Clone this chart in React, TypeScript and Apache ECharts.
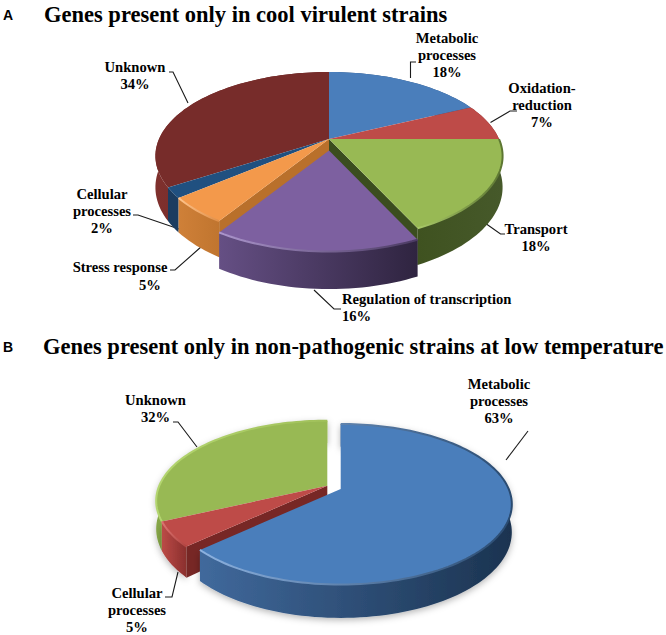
import React, { useEffect, useRef } from "react";
import * as echarts from "echarts";

const titleA = "Genes present only in cool virulent strains";
const titleB = "Genes present only in non-pathogenic strains at low temperature";

const namesA = ["Metabolic\nprocesses", "Oxidation-\nreduction", "Transport", "Regulation of transcription", "Stress response", "Cellular\nprocesses", "Unknown"];
const valuesA = [18, 7, 18, 16, 5, 2, 34];
const namesB = ["Metabolic\nprocesses", "Cellular\nprocesses", "Unknown"];
const valuesB = [63, 5, 32];

type Slice = {
  top: string; wall: [string, string]; rim?: [string, string]; cut?: string; cutEnd?: boolean;
  off?: [number, number]; order: number;
};
type PieCfg = { cx: number; cy: number; rx: number; ry: number; p: number; d: number; shadow?: boolean; slices: Slice[] };

const cfgA: PieCfg = {
  cx: 329, cy: 139, rx: 170, ry: 80.6, p: 0.2024, d: 30,
  slices: [
    { top: "#4a7ebb", wall: ["#2f5380", "#2f5380"], order: 0 },
    { top: "#be4b48", wall: ["#7c2f2d", "#7c2f2d"], order: 1 },
    { top: "#98b954", wall: ["#3f5220", "#46592a"], rim: ["#a9c968", "#5c7631"], cut: "#3b4d1f", cutEnd: true, order: 4 },
    { top: "#7d60a0", wall: ["#654f84", "#2f2440"], rim: ["#ab95cc", "#4b3a63"], off: [0, 11.4], order: 6 },
    { top: "#f3994b", wall: ["#cf8038", "#c0752f"], rim: ["#ffc48c", "#e08f48"], cut: "#b9702b", order: 5 },
    { top: "#205080", wall: ["#1b3c60", "#1b3c60"], order: 3 },
    { top: "#772c2a", wall: ["#7f302d", "#5c2220"], order: 2 },
  ],
};

const cfgB: PieCfg = {
  cx: 327.3, cy: 485.7, rx: 168, ry: 77.4, p: 0.19, d: 27, shadow: true,
  slices: [
    { top: "#4a7ebb", wall: ["#40699c", "#1b3350"], rim: ["#8db2e0", "#294a70"], off: [13.4, 3.3], order: 2 },
    { top: "#be4b48", wall: ["#bb4a47", "#8a2f2d"], rim: ["#dc7471", "#b04340"], cut: "#772725", order: 1 },
    { top: "#98b954", wall: ["#86a647", "#a6c75f"], rim: ["#b4d670", "#a0c05a"], order: 0 },
  ],
};

function makeRenderer(values: number[], cfg: PieCfg) {
  const total = values.reduce((a, b) => a + b, 0);
  const proj = (v: number) => {
    const t = (v / total) * Math.PI * 2;
    const s = Math.sin(t);
    const c = -Math.cos(t);
    const w = 1 - cfg.p * c;
    return [cfg.rx * s / w + cfg.cx, cfg.ry * c / w + cfg.cy, cfg.d / w];
  };
  return (params: any, api: any) => {
    const i = params.dataIndex;
    const v = api.value(0);
    const st = values.slice(0, i).reduce((a, b) => a + b, 0);
    const sl = cfg.slices[i];
    const [ox, oy] = sl.off || [0, 0];
    const n = Math.max(4, Math.ceil(v * 2));
    const arc: number[][] = [];
    for (let k = 0; k <= n; k++) arc.push(proj(st + (v * k) / n));
    const pts = arc.map((a) => [a[0] + ox, a[1] + oy]);
    const low = arc.map((a) => [a[0] + ox, a[1] + oy + a[2]]);
    const ctr = [cfg.cx + ox, cfg.cy + oy];
    const ctrLow = [ctr[0], ctr[1] + cfg.d];
    const base = sl.order * 10;
    const children: any[] = [];
    if (sl.cut) {
      const edgeIdx = sl.cutEnd ? n : 0;
      children.push({
        type: "polygon", z2: base + 1,
        shape: { points: [ctr, pts[edgeIdx], low[edgeIdx], ctrLow] },
        style: { fill: sl.cut },
      });
    }
    children.push({
      type: "polygon", z2: base,
      shape: { points: [...pts, ...low.slice().reverse()] },
      style: {
        fill: new echarts.graphic.LinearGradient(0, 0, 1, 0, [
          { offset: 0, color: sl.wall[0] },
          { offset: 1, color: sl.wall[1] },
        ]),
        ...(cfg.shadow ? { shadowBlur: 7, shadowColor: "rgba(0,0,0,0.3)", shadowOffsetY: 2 } : {}),
      },
    });
    children.push({
      type: "polygon", z2: base + 2,
      shape: { points: [ctr, ...pts] },
      style: { fill: sl.top },
    });
    if (sl.rim) {
      children.push({
        type: "polyline", z2: base + 3,
        shape: { points: pts },
        style: {
          fill: "none", lineWidth: 2,
          stroke: new echarts.graphic.LinearGradient(0, 0, 1, 0, [
            { offset: 0, color: sl.rim[0] },
            { offset: 1, color: sl.rim[1] },
          ]),
        },
      });
    }
    return { type: "group", children };
  };
}

const serif = '"Liberation Serif", serif';
const label = (text: string, x: number, y: number, align = "center") => ({
  type: "text", x, y, silent: true,
  style: {
    text, x: 0, y: 0, align, verticalAlign: "middle",
    font: `bold 14.6px ${serif}`, lineHeight: 17.3, fill: "#000",
  },
});
const leader = (points: number[][]) => ({
  type: "polyline", silent: true,
  shape: { points },
  style: { stroke: "#1a1a1a", lineWidth: 1.1, fill: "none" },
});
const pct = (names: string[], values: number[], i: number) => `${names[i]}\n${values[i]}%`;

export default function App() {
  const ref = useRef<HTMLDivElement>(null);
  useEffect(() => {
    const chart = echarts.init(ref.current!, null, { renderer: "svg" });
    chart.setOption({
      animation: false,
      backgroundColor: "#fff",
      title: [
        { text: titleA, left: 44, top: 3, padding: 0, textStyle: { fontFamily: serif, fontWeight: "bold", fontSize: 22.5, color: "#000" } },
        { text: titleB, left: 43, top: 335, padding: 0, textStyle: { fontFamily: serif, fontWeight: "bold", fontSize: 22.5, color: "#000" } },
        { text: "A", left: 3, top: 8, padding: 0, textStyle: { fontFamily: '"Liberation Sans", sans-serif', fontWeight: "bold", fontSize: 14, color: "#000" } },
        { text: "B", left: 3, top: 340, padding: 0, textStyle: { fontFamily: '"Liberation Sans", sans-serif', fontWeight: "bold", fontSize: 14, color: "#000" } },
      ],
      series: [
        { type: "custom", coordinateSystem: "none", silent: true, data: valuesA.map((v) => [v]), renderItem: makeRenderer(valuesA, cfgA) },
        { type: "custom", coordinateSystem: "none", silent: true, data: valuesB.map((v) => [v]), renderItem: makeRenderer(valuesB, cfgB) },
      ],
      graphic: [
        label(pct(namesA, valuesA, 0), 447, 55),
        label(pct(namesA, valuesA, 1), 542, 105),
        label(pct(namesA, valuesA, 2), 536, 237.5),
        label(pct(namesA, valuesA, 3), 342, 307.5, "left"),
        label(namesA[4], 120, 267),
        label(`${valuesA[4]}%`, 150, 284.5),
        label(pct(namesA, valuesA, 5), 102, 211),
        label(pct(namesA, valuesA, 6), 135, 75.5),
        label(pct(namesB, valuesB, 0), 499, 401),
        label(pct(namesB, valuesB, 1), 137, 610),
        label(pct(namesB, valuesB, 2), 155.5, 408.5),
        leader([[410.5, 78], [410.5, 62], [416, 62]]),
        leader([[490.5, 122.5], [510, 111], [517, 111]]),
        leader([[485, 223], [500.5, 234], [505, 234]]),
        leader([[314, 290], [334, 309], [341, 309]]),
        leader([[201.5, 246.5], [175, 270], [170, 270]]),
        leader([[179, 229], [138, 215], [133, 215]]),
        leader([[188, 103], [173, 72], [169, 72]]),
        leader([[506, 460], [528, 431]]),
        leader([[197, 447], [178, 422], [173, 422]]),
        leader([[178, 572], [172, 597], [165, 597]]),
      ],
    });
    return () => chart.dispose();
  }, []);
  return <div ref={ref} style={{ position: "absolute", left: 0, top: 0, width: 666, height: 635 }} />;
}
